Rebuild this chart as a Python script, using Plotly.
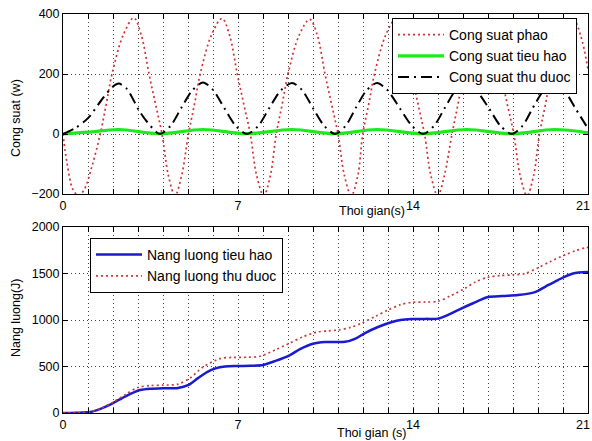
import plotly.graph_objects as go

# ---------------- data ----------------
# Top panel: power (W) vs time (s)
t_phao = [0, 0.16, 0.4, 0.62, 0.85, 1.15,
          1.49, 1.73, 1.96, 2.41, 2.83, 3.13, 3.44, 3.70, 3.96, 4.22, 4.48, 4.74,
          5.02, 5.26, 5.49, 5.94, 6.36, 6.66, 6.97, 7.23, 7.49, 7.75, 8.03, 8.29,
          8.53, 8.77, 9.00, 9.45, 9.87, 10.17, 10.48, 10.74, 11.00, 11.26, 11.53, 11.79,
          11.99, 12.23, 12.46, 12.91, 13.33, 13.63, 13.94, 14.20, 14.46, 14.72, 14.99, 15.25,
          15.56, 15.80, 16.03, 16.48, 16.90, 17.20, 17.51, 17.77, 18.03, 18.29, 18.56, 18.82,
          19.06, 19.30, 19.53, 19.98, 20.40, 20.70, 21.00]
p_phao = [0, -97, -185, -205, -185, -110,
          0, 100, 200, 330, 387, 330, 200, 100, 0, -140, -205, -140,
          0, 100, 200, 330, 385, 330, 200, 100, 0, -140, -205, -140,
          0, 100, 200, 330, 382, 330, 200, 100, 0, -140, -205, -140,
          0, 100, 200, 330, 385, 330, 200, 100, 0, -140, -205, -140,
          0, 100, 200, 330, 385, 330, 200, 100, 0, -140, -205, -140,
          0, 100, 200, 330, 385, 330, 215]

t_thu = [0, 0.5, 1.0, 1.6, 2.0, 2.23, 2.56, 3.03, 3.37, 3.87,
         4.30, 4.74, 5.17, 5.60, 6.00, 6.45, 6.90, 7.36,
         7.81, 8.26, 8.71, 9.16, 9.56, 10.00, 10.44, 10.88,
         11.30, 11.72, 12.14, 12.56, 12.98, 13.48, 13.96, 14.40,
         14.84, 15.28, 15.71, 16.15, 16.55, 17.05, 17.50, 17.95,
         18.38, 18.80, 19.23, 19.65, 20.05, 20.50, 21.00]
p_thu = [0, 20, 53, 120, 158, 168, 150, 80, 40, 0,
         27, 88, 145, 172, 147, 87, 28, 0,
         27, 88, 145, 170, 147, 86, 28, 0,
         27, 88, 145, 170, 146, 85, 27, 0,
         27, 88, 145, 166, 143, 84, 27, 0,
         27, 88, 145, 168, 145, 85, 18]

t_tieu = [0, 1.0, 2.23, 3.87, 5.60, 7.36, 9.16, 10.88, 12.56, 14.40, 16.15, 17.95, 19.65, 21.0]
p_tieu = [0, 6, 15, 1, 15, 1, 15, 1, 15, 1, 15, 1, 15, 4]

# Bottom panel: energy (J) vs time (s)
t_e_tieu = [0, 0.5, 1.08, 1.5, 2.0, 2.5, 3.08, 3.5, 4.0, 4.6, 5.0, 5.4, 5.76, 6.1, 6.48,
            7.0, 7.5, 8.0, 8.5, 9.08, 9.5, 10.0, 10.48, 11.28, 11.7, 12.08, 12.6, 13.16,
            13.5, 13.96, 14.5, 15.0, 15.4, 15.8, 16.4, 17.0, 17.6, 18.2, 18.88, 19.3,
            19.8, 20.4, 21.0]
e_tieu = [0, 3, 10, 45, 107, 180, 247, 262, 265, 270, 300, 375, 440, 480, 500,
          505, 508, 516, 560, 623, 690, 745, 763, 765, 800, 860, 925, 978,
          1000, 1010, 1012, 1015, 1055, 1107, 1180, 1247, 1258, 1268, 1300, 1360,
          1430, 1500, 1515]

t_e_thu = [0, 0.5, 1.08, 1.5, 2.0, 2.5, 3.0, 3.5, 4.0, 4.6, 5.08, 5.6, 6.28, 6.8, 7.4,
           7.88, 8.5, 9.08, 9.6, 10.16, 10.6, 11.0, 11.5, 11.96, 12.5, 13.0, 13.5, 13.96,
           14.5, 15.0, 15.5, 16.08, 16.5, 17.0, 17.5, 18.0, 18.48, 19.0, 19.5, 20.08,
           20.5, 20.88, 21.0]
e_thu = [0, 3, 12, 50, 115, 200, 275, 295, 300, 310, 376, 495, 585, 598, 600,
         610, 680, 752, 820, 870, 883, 892, 920, 968, 1040, 1107, 1165, 1190,
         1193, 1200, 1260, 1340, 1410, 1460, 1478, 1485, 1500, 1560, 1630, 1700,
         1745, 1775, 1780]

x_ticks = list(range(0, 22))
# last label ("21") is drawn as a right-anchored annotation so it stays inside the page
x_ticktext = [str(v) if (v % 7 == 0 and v < 21) else "" for v in x_ticks]

# ---------------- figure ----------------
FONT = "Liberation Sans, Arial, Helvetica, sans-serif"
W, H = 592, 441

fig = go.Figure()

fig.add_trace(go.Scatter(x=t_phao, y=p_phao, name="Cong suat phao", mode="lines",
                         line=dict(color="#d83030", width=1.7, dash="2px,3px", shape="spline", smoothing=1),
                         xaxis="x", yaxis="y", legend="legend"))
fig.add_trace(go.Scatter(x=t_tieu, y=p_tieu, name="Cong suat tieu hao", mode="lines",
                         line=dict(color="#1ee81e", width=3.2, shape="spline", smoothing=1),
                         xaxis="x", yaxis="y", legend="legend"))
fig.add_trace(go.Scatter(x=t_thu, y=p_thu, name="Cong suat thu duoc", mode="lines",
                         line=dict(color="black", width=2, dash="11px,5px,2px,5px", shape="spline", smoothing=0.8),
                         xaxis="x", yaxis="y", legend="legend"))

fig.add_trace(go.Scatter(x=t_e_tieu, y=e_tieu, name="Nang luong tieu hao", mode="lines",
                         line=dict(color="#1a1ad2", width=2.5, shape="spline", smoothing=0.8),
                         xaxis="x2", yaxis="y2", legend="legend2"))
fig.add_trace(go.Scatter(x=t_e_thu, y=e_thu, name="Nang luong thu duoc", mode="lines",
                         line=dict(color="#c83c3c", width=1.7, dash="2px,3px", shape="spline", smoothing=0.8),
                         xaxis="x2", yaxis="y2", legend="legend2"))

x0, x1 = 63 / W, 588 / W
top_dom = [1 - 194 / H, 1 - 14 / H]
bot_dom = [1 - 413 / H, 1 - 227 / H]

axis_common = dict(showline=True, linecolor="black", linewidth=1, mirror="ticks",
                   ticks="inside", ticklen=5, tickcolor="black",
                   showgrid=True, gridcolor="#444444", gridwidth=1, griddash="1px,3px",
                   zeroline=False, automargin=False,
                   tickfont=dict(family=FONT, size=12.5, color="black"))

lab = dict(family=FONT, size=12.5, color="black")

fig.update_layout(
    width=W, height=H,
    margin=dict(l=0, r=0, t=0, b=0),
    paper_bgcolor="white", plot_bgcolor="white",
    font=dict(family=FONT, size=12.5, color="black"),
    xaxis=dict(domain=[x0, x1], range=[0, 21], tickvals=x_ticks, ticktext=x_ticktext,
               anchor="y", **axis_common),
    yaxis=dict(domain=top_dom, range=[-200, 400], tickvals=[-200, 0, 200, 400],
               anchor="x", **axis_common),
    xaxis2=dict(domain=[x0, x1], range=[0, 21], tickvals=x_ticks, ticktext=x_ticktext,
                anchor="y2", **axis_common),
    yaxis2=dict(domain=bot_dom, range=[0, 2000], tickvals=[0, 500, 1000, 1500, 2000],
                anchor="x2", **axis_common),
    legend=dict(x=577 / W, y=1 - 18 / H, xanchor="right", yanchor="top",
                bgcolor="white", bordercolor="black", borderwidth=1,
                font=dict(family=FONT, size=14, color="black"),
                tracegroupgap=0, itemwidth=46),
    legend2=dict(x=90 / W, y=1 - 238 / H, xanchor="left", yanchor="top",
                 bgcolor="white", bordercolor="black", borderwidth=1,
                 font=dict(family=FONT, size=14, color="black"),
                 tracegroupgap=0, itemwidth=46),
    showlegend=True,
    annotations=[
        dict(text="Cong suat (w)", x=16 / W, y=1 - 118 / H, xref="paper", yref="paper",
             xanchor="center", yanchor="middle",
             textangle=-90, showarrow=False, font=lab),
        dict(text="Thoi gian(s)", x=372 / W, y=1 - 211 / H, xref="paper", yref="paper",
             xanchor="center", yanchor="middle", showarrow=False, font=lab),
        dict(text="Nang luong(J)", x=16 / W, y=1 - 318 / H, xref="paper", yref="paper",
             xanchor="center", yanchor="middle",
             textangle=-90, showarrow=False, font=lab),
        dict(text="Thoi gian (s)", x=371 / W, y=1 - 433 / H, xref="paper", yref="paper",
             xanchor="center", yanchor="middle", showarrow=False, font=lab),
        dict(text="21", x=1.0, y=1 - 206 / H, xref="paper", yref="paper",
             xanchor="right", yanchor="middle", showarrow=False, font=lab),
        dict(text="21", x=1.0, y=1 - 425 / H, xref="paper", yref="paper",
             xanchor="right", yanchor="middle", showarrow=False, font=lab),
    ],
)

fig.write_html("out.html", config={"displayModeBar": False},
               post_script="document.body.style.margin='0px';")
